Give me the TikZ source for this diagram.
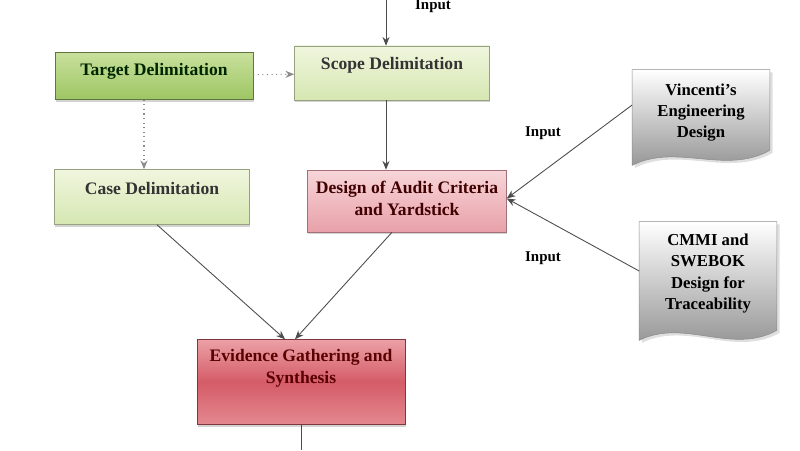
\documentclass[tikz,border=0pt]{standalone}
\usepackage{fontspec}
\setmainfont{Liberation Serif}
\usetikzlibrary{arrows.meta,backgrounds,shadows}

\definecolor{leafA}{RGB}{200,224,156}
\definecolor{leafB}{RGB}{158,198,100}
\definecolor{paleA}{RGB}{240,246,222}
\definecolor{paleB}{RGB}{214,231,178}
\definecolor{pinkA}{RGB}{247,214,217}
\definecolor{pinkB}{RGB}{232,160,168}
\definecolor{rustA}{RGB}{236,160,166}
\definecolor{rustM}{RGB}{212,92,104}
\definecolor{rustB}{RGB}{228,136,144}

\begin{document}
\begin{tikzpicture}[
    box/.style={draw=#1, line width=0.3pt, minimum width=3.9cm,
                drop shadow={opacity=0.35, shadow xshift=0.4pt, shadow yshift=-1.2pt}},
    txt/.style={align=center, font=\bfseries\fontsize{10}{12.5}\selectfont},
    doc/.style={align=center, minimum width=2.74cm, inner sep=1pt,
                font=\bfseries\fontsize{9.5}{12}\selectfont},
    flow/.style={-{Stealth[length=5pt,width=4pt]}, line width=0.5pt, black!70},
    weak/.style={-{Stealth[length=5pt,width=4pt]}, line width=0.6pt, black!45, dotted},
    lab/.style={font=\bfseries\fontsize{8.5}{10}\selectfont}
]
    \useasboundingbox (0,0) rectangle (16,9);

    % Delimitation boxes
    \node[box=leafB!60!black, top color=leafA, bottom color=leafB,
          minimum width=3.96cm, minimum height=0.94cm] (target) at (3.08,7.48) {};
    \node[txt, text=green!15!black] (targettxt) at ([yshift=0.1cm]target.center) {Target Delimitation};
    \node[box=paleB!70!black, top color=paleA, bottom color=paleB,
          minimum height=1.08cm] (scope) at (7.84,7.54) {};
    \node[txt, text=black!80] (scopetxt) at ([yshift=0.16cm]scope.center) {Scope Delimitation};
    \node[box=paleB!70!black, top color=paleA, bottom color=paleB,
          minimum height=1.1cm] (case) at (3.04,5.06) {};
    \node[txt, text=black!80] (casetxt) at ([yshift=0.18cm]case.center) {Case Delimitation};

    % Criteria and evidence
    \node[box=pinkB!70!black, top color=pinkA, bottom color=pinkB,
          minimum width=3.98cm, minimum height=1.24cm] (design) at (8.14,4.98) {};
    \node[txt, text=black!75!red] (designtxt) at ([yshift=0.06cm]design.center) {Design of Audit Criteria\\and Yardstick};
    \node[box=rustM!60!black, top color=rustA, bottom color=rustB, middle color=rustM,
          minimum width=4.16cm, minimum height=1.7cm] (evid) at (6.02,1.36) {};
    \node[txt, text=red!35!black] (evidtxt) at ([yshift=0.28cm]evid.center) {Evidence Gathering and\\Synthesis};

    % Documents
    \node[doc, minimum height=1.7cm] (vin) at (14.02,6.75) {Vincenti's\\Engineering\\Design};
    \node[doc, minimum height=2.06cm] (cmmi) at (14.16,3.53) {CMMI and\\SWEBOK\\Design for\\Traceability};
    \begin{scope}[on background layer]
        \shade[top color=white, bottom color=black!45, draw=black!45, line width=0.3pt,
               drop shadow={opacity=0.25, shadow xshift=1.5pt, shadow yshift=-1.5pt}]
            (vin.north west) -- (vin.north east) -- ([yshift=0.1cm]vin.south east)
            .. controls +(-0.9,-0.5) and +(0.9,0.45) .. ([yshift=-0.2cm]vin.south west) -- cycle;
        \shade[top color=white, bottom color=black!45, draw=black!45, line width=0.3pt,
               drop shadow={opacity=0.25, shadow xshift=1.5pt, shadow yshift=-1.5pt}]
            (cmmi.north west) -- (cmmi.north east) -- ([yshift=-0.1cm]cmmi.south east)
            .. controls +(-0.9,-0.5) and +(0.9,0.45) .. ([yshift=-0.3cm]cmmi.south west) -- cycle;
    \end{scope}

    % Connectors
    \coordinate (top) at (7.72,9);
    \draw[flow] (top) -- (top |- scope.north);
    \node[lab] (in0) at (8.66,8.88) {Input};
    \draw[weak] (target) -- (scope);
    \draw[weak] ([xshift=-0.2cm]target.south) -- ([xshift=-0.2cm]target.south |- case.north);
    \draw[flow] (top |- scope.south) -- (top |- design.north);
    \draw[flow] ([xshift=0.1cm]case.south) -- ([xshift=-0.32cm]evid.north);
    \draw[flow] ([xshift=-0.3cm]design.south) -- ([xshift=-0.12cm]evid.north);
    \draw[flow] ([yshift=0.15cm]vin.west) -- ([yshift=0.05cm]design.east);
    \draw[flow] ([yshift=0.05cm]cmmi.west) -- ([yshift=0.05cm]design.east);
    \node[lab] (in1) at (10.86,6.34) {Input};
    \node[lab] (in2) at (10.86,3.84) {Input};
    \coordinate (bot) at (evid.south |- 0,0);
    \draw[line width=0.5pt, black!70] (evid.south) -- (bot);
\end{tikzpicture}
\end{document}
